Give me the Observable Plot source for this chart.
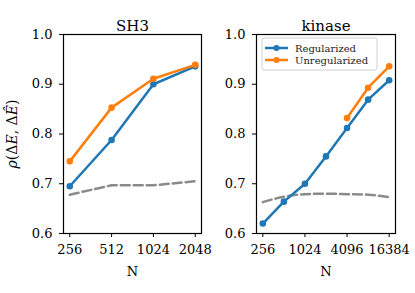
<!DOCTYPE html>
<html>
<head>
<meta charset="utf-8">
<script src="https://cdn.jsdelivr.net/npm/d3@7"></script>
<script src="https://cdn.jsdelivr.net/npm/@observablehq/plot@0.6"></script>
<style>
  html, body { margin: 0; padding: 0; background: #fff; }
  #chart { position: relative; width: 415px; height: 293px; overflow: hidden; }
  #chart svg { position: absolute; top: 0; }
</style>
</head>
<body>
<div id="chart"></div>
<script>
// ---- data ----
const sh3N = [256, 512, 1024, 2048];
const sh3Reg = [0.695, 0.788, 0.900, 0.936];
const sh3Unreg = [0.745, 0.853, 0.911, 0.939];
const sh3Base = [0.678, 0.697, 0.697, 0.705];

const kinN = [256, 512, 1024, 2048, 4096, 8192, 16384];
const kinReg = [0.620, 0.664, 0.700, 0.755, 0.812, 0.869, 0.908];
const kinUnregN = [4096, 8192, 16384];
const kinUnreg = [0.832, 0.893, 0.936];
const kinBase = [0.663, 0.674, 0.679, 0.680, 0.679, 0.678, 0.673];

const sh3Ticks = [256, 512, 1024, 2048];
const kinTicks = [256, 1024, 4096, 16384];
const yTicks = [0.6, 0.7, 0.8, 0.9, 1.0];
const seriesNames = ["Regularized", "Unregularized"];
const colors = ["#1f77b4", "#ff7f0e"];
const baseColor = "#8a8a8a";

const FONT = "'DejaVu Serif', serif";

function rows(xs, ys) { return xs.map((x, i) => ({x, y: ys[i]})); }

function panel({title, width, marginLeft, marginRight, xDomain, xTicks, reg, unreg, base, baseCurve}) {
  const svg = Plot.plot({
    width, height: 293,
    marginLeft, marginRight, marginTop: 34, marginBottom: 60,
    style: {fontFamily: FONT, fontSize: "13px", background: "transparent", color: "black", overflow: "visible"},
    x: {type: "log", base: 2, domain: xDomain, label: null},
    y: {domain: [0.6, 1.0], label: null},
    marks: [
      Plot.axisX({ticks: xTicks, tickFormat: d => String(d), tickSize: 4, tickPadding: 7, label: null}),
      Plot.axisY({ticks: yTicks, tickFormat: d3.format(".1f"), tickSize: 4, tickPadding: 7, label: null}),
      Plot.line(base, {x: "x", y: "y", stroke: baseColor, strokeWidth: 2.5, strokeDasharray: "9,4", curve: baseCurve}),
      Plot.line(reg, {x: "x", y: "y", stroke: colors[0], strokeWidth: 2.5}),
      Plot.dot(reg, {x: "x", y: "y", fill: colors[0], r: 3.3}),
      Plot.line(unreg, {x: "x", y: "y", stroke: colors[1], strokeWidth: 2.5}),
      Plot.dot(unreg, {x: "x", y: "y", fill: colors[1], r: 3.3}),
      Plot.frame({stroke: "black", strokeWidth: 1.2}),
      Plot.text([title], {frameAnchor: "top", dy: -14, fontSize: 15, fill: "black"}),
      Plot.text(["N"], {frameAnchor: "bottom", dy: 42, fontSize: 13, fill: "black"})
    ]
  });
  d3.select(svg).selectAll('g[aria-label$="tick label"]').attr("font-size", 13).attr("font-family", FONT);
  return svg;
}

const left = panel({
  title: "SH3", width: 205, marginLeft: 63, marginRight: 4,
  xDomain: [256 * Math.pow(2, -0.15), 2048 * Math.pow(2, 0.15)],
  xTicks: sh3Ticks,
  reg: rows(sh3N, sh3Reg), unreg: rows(sh3N, sh3Unreg), base: rows(sh3N, sh3Base),
  baseCurve: "linear"
});
const right = panel({
  title: "kinase", width: 210, marginLeft: 51, marginRight: 20,
  xDomain: [256 * Math.pow(2, -0.3), 16384 * Math.pow(2, 0.3)],
  xTicks: kinTicks,
  reg: rows(kinN, kinReg), unreg: rows(kinUnregN, kinUnreg), base: rows(kinN, kinBase),
  baseCurve: "monotone-x"
});
left.style.left = "0px";
right.style.left = "205px";

// y-axis label with math styling
const yl = d3.select(left).append("text")
  .attr("transform", "translate(13,134) rotate(-90)")
  .attr("text-anchor", "middle")
  .attr("dominant-baseline", "middle")
  .attr("font-family", FONT)
  .attr("font-size", 14)
  .attr("fill", "black");
yl.append("tspan").attr("font-style", "italic").text("ρ");
yl.append("tspan").text("(Δ");
yl.append("tspan").attr("font-style", "italic").text("E");
yl.append("tspan").text(", Δ");
yl.append("tspan").attr("font-style", "italic").text("Ê");
yl.append("tspan").text(")");

// legend inside kinase panel
const lg = d3.select(right).append("g").attr("font-family", FONT).attr("text-anchor", "start");
lg.append("rect").attr("x", 57).attr("y", 38).attr("width", 115).attr("height", 32)
  .attr("rx", 2.5).attr("fill", "white").attr("fill-opacity", 0.85)
  .attr("stroke", "#d0d0d0").attr("stroke-width", 1);
seriesNames.forEach((name, i) => {
  const y = 48 + i * 12;
  lg.append("line").attr("x1", 60).attr("x2", 83).attr("y1", y).attr("y2", y)
    .attr("stroke", colors[i]).attr("stroke-width", 2.5);
  lg.append("circle").attr("cx", 71.5).attr("cy", y).attr("r", 3).attr("fill", colors[i]);
  lg.append("text").attr("x", 90).attr("y", y).attr("dy", "0.35em").attr("text-anchor", "start")
    .attr("font-size", 10).attr("fill", "#222").text(name);
});

const chart = document.getElementById("chart");
chart.appendChild(left);
chart.appendChild(right);
</script>
</body>
</html>
